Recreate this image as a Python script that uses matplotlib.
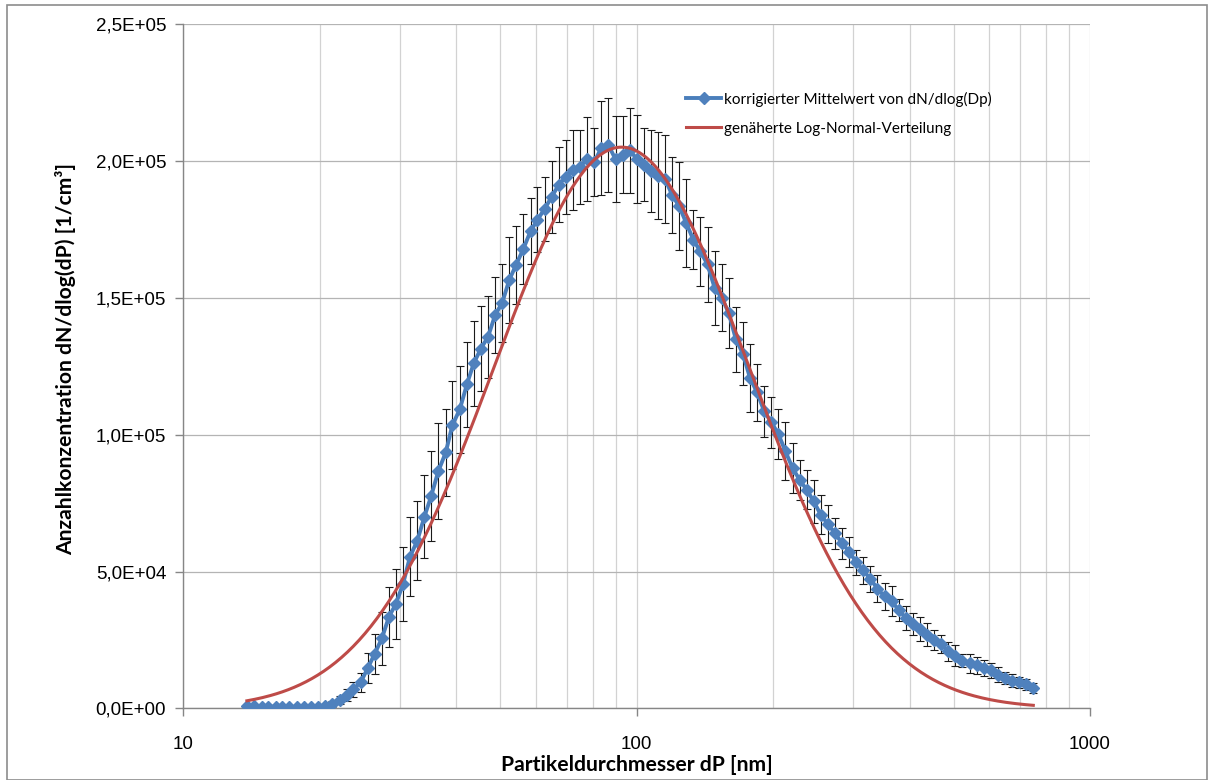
import numpy as np
import matplotlib
matplotlib.use("Agg")
import matplotlib.pyplot as plt
from matplotlib.patches import Rectangle
from matplotlib.ticker import FixedLocator, NullFormatter

# SMPS channel midpoints, 64 channels per decade [nm]
diameters = [
    13.8, 14.3, 14.9, 15.4, 16.0, 16.5, 17.1, 17.8, 18.4, 19.1,
    19.8, 20.5, 21.3, 22.1, 22.9, 23.7, 24.6, 25.5, 26.4, 27.4,
    28.4, 29.4, 30.5, 31.6, 32.8, 34.0, 35.2, 36.5, 37.9, 39.2,
    40.7, 42.2, 43.7, 45.3, 47.0, 48.7, 50.5, 52.3, 54.2, 56.2,
    58.3, 60.4, 62.6, 64.9, 67.3, 69.8, 72.3, 74.9, 77.7, 80.6,
    83.5, 86.6, 89.8, 93.1, 96.5, 100.0, 103.7, 107.5, 111.4, 115.5,
    119.7, 124.1, 128.6, 133.3, 138.2, 143.3, 148.6, 154.0, 159.6, 165.5,
    171.5, 177.8, 184.3, 191.1, 198.1, 205.4, 212.9, 220.7, 228.8, 237.2,
    245.8, 254.8, 264.2, 273.8, 283.9, 294.3, 305.1, 316.2, 327.8, 339.8,
    352.3, 365.2, 378.6, 392.4, 406.8, 421.7, 437.1, 453.2, 469.8, 487.0,
    504.8, 523.3, 542.5, 562.3, 583.0, 604.3, 626.5, 649.4, 673.2, 697.8,
    723.4, 749.9,
]

# corrected mean dN/dlog(Dp) [1/cm3]
dndlogdp = [
    1000, 800, 700, 600, 600, 500, 500, 500, 400, 500,
    600, 800, 1600, 3100, 4900, 7000, 9600, 14700, 19900, 25600,
    33500, 38100, 45400, 55400, 61300, 70000, 77600, 86700, 93500, 103500,
    109200, 118400, 126100, 131400, 135800, 143700, 148200, 156400, 162100, 167800,
    174300, 178500, 182400, 186800, 191300, 194100, 196700, 197700, 200600, 199500,
    204700, 205800, 200500, 202200, 203900, 200700, 198600, 196400, 194600, 193400,
    187500, 183400, 177300, 171200, 166900, 162200, 153500, 150000, 144400, 134800,
    129600, 120700, 115500, 108500, 104600, 100200, 93900, 87800, 83500, 79900,
    75600, 70700, 67300, 64000, 60300, 57300, 53400, 50400, 47300, 43700,
    40900, 39100, 36000, 33000, 30900, 29100, 27000, 25100, 23400, 20900,
    19300, 17500, 16500, 15700, 14700, 13900, 12400, 11200, 10200, 9600,
    8800, 7500,
]

# standard deviation of the mean
dndlogdp_err = [
    500, 500, 500, 500, 500, 500, 500, 500, 500, 500,
    500, 500, 1000, 1500, 2200, 2800, 3500, 5400, 7400, 9700,
    11000, 12700, 13400, 14500, 14400, 15200, 16600, 17400, 16000, 16000,
    16000, 15500, 15500, 15500, 15000, 13800, 14200, 15800, 14200, 12900,
    12100, 11800, 11700, 13000, 13800, 13600, 14700, 13600, 15300, 12500,
    17000, 17300, 15700, 14000, 15500, 16000, 13400, 15000, 16000, 16000,
    14000, 16000, 16000, 10800, 12600, 13800, 13500, 12300, 12800, 12000,
    11500, 12300, 10400, 9400, 9300, 9100, 10600, 9000, 7300, 7100,
    7900, 7100, 7000, 5700, 5600, 5500, 4500, 5000, 4900, 4900,
    5000, 5500, 4000, 4300, 4100, 4400, 4300, 3600, 3300, 3400,
    3800, 2400, 3400, 3200, 3000, 2600, 2600, 2200, 2300, 2000,
    2000, 1800,
]

# fitted log-normal mode
N_total = 1.45e5   # [1/cm3]
D_g = 92.6         # [nm]
sigma_g = 1.915

dp = np.array(diameters)
dn = np.array(dndlogdp)
err = np.array(dndlogdp_err)

d_fit = np.geomspace(dp[0], dp[-1], 400)
ls = np.log10(sigma_g)
n_fit = N_total / (np.sqrt(2 * np.pi) * ls) * np.exp(-(np.log10(d_fit) - np.log10(D_g)) ** 2 / (2 * ls ** 2))

blue = "#4A7EBB"
red = "#BE4B48"
tick_font = "Liberation Sans"
label_font = "Lato"

fig = plt.figure(figsize=(12.12, 7.8), dpi=100)
ax = fig.add_axes([0.1514, 0.0917, 0.7479, 0.8776])

ax.errorbar(dp, dn, yerr=err, fmt="none", ecolor="#1a1a1a", elinewidth=0.8,
            capsize=3, capthick=0.8, zorder=2)
ax.plot(dp, dn, color=blue, lw=2.8, marker="D", markersize=6.2,
        markerfacecolor="#4F81BD", markeredgecolor="#4F81BD",
        label="korrigierter Mittelwert von dN/dlog(Dp)", zorder=3)
ax.plot(d_fit, n_fit, color=red, lw=2.2, label="genäherte Log-Normal-Verteilung", zorder=4)

ax.set_xscale("log")
ax.set_xlim(10, 1000)
ax.set_ylim(0, 2.5e5)

ax.xaxis.set_major_locator(FixedLocator([10, 100, 1000]))
ax.xaxis.set_minor_locator(FixedLocator([20, 30, 40, 50, 60, 70, 80, 90,
                                         200, 300, 400, 500, 600, 700, 800, 900]))
ax.xaxis.set_minor_formatter(NullFormatter())
ax.set_xticklabels(["10", "100", "1000"], fontfamily=tick_font, fontsize=13.5)

yticks = np.arange(0, 2.5e5 + 1, 5e4)
ax.set_yticks(yticks)
ax.set_yticklabels([f"{v:.1E}".replace(".", ",") for v in yticks],
                   fontfamily=tick_font, fontsize=13.5)

ax.tick_params(axis="both", which="major", direction="out", length=6,
               color="#868686", width=1)
ax.tick_params(axis="x", which="major", pad=14)
ax.tick_params(axis="y", which="major", pad=6.5)
ax.tick_params(axis="x", which="minor", length=0)

ax.grid(True, axis="y", color="#b4b4b4", lw=0.9)
ax.grid(True, axis="x", which="both", color="#d2d2d2", lw=0.9)
ax.set_axisbelow(True)

for side in ["top", "right"]:
    ax.spines[side].set_visible(False)
for side in ["left", "bottom"]:
    ax.spines[side].set_color("#868686")
    ax.spines[side].set_linewidth(1)

ax.set_xlabel("Partikeldurchmesser dP [nm]", fontfamily=label_font,
              fontweight="bold", fontsize=15.2)
ax.set_ylabel("Anzahlkonzentration dN/dlog(dP) [1/cm³]", fontfamily=label_font,
              fontweight="bold", fontsize=15.2)
ax.xaxis.set_label_coords(0.5, -0.068)
ax.yaxis.set_label_coords(-0.119, 0.51)

leg = ax.legend(loc="upper left", bbox_to_anchor=(0.548, 0.91), frameon=False,
                numpoints=1, handlelength=2.3, handletextpad=0.15,
                labelspacing=0.98, borderaxespad=0,
                prop={"family": label_font, "size": 11})

# chart frame
fig.patches.append(Rectangle((7 / 1212, 0), 1200 / 1212, 775 / 780,
                             transform=fig.transFigure, fill=False,
                             edgecolor="#8c8c8c", lw=1.2))

fig.savefig("out.png", dpi=100)
